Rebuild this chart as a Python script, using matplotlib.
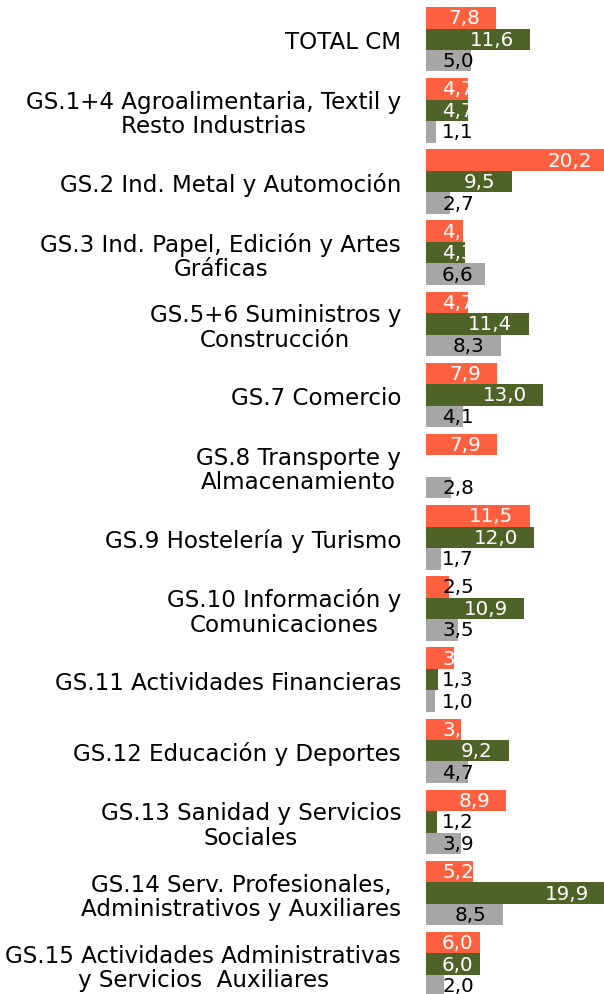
import matplotlib
matplotlib.use("Agg")
import matplotlib.pyplot as plt
import numpy as np

categories = [
    "TOTAL CM",
    "GS.1+4 Agroalimentaria, Textil y\nResto Industrias",
    "GS.2 Ind. Metal y Automoción",
    "GS.3 Ind. Papel, Edición y Artes\nGráficas",
    "GS.5+6 Suministros y\nConstrucción",
    "GS.7 Comercio",
    "GS.8 Transporte y\nAlmacenamiento",
    "GS.9 Hostelería y Turismo",
    "GS.10 Información y\nComunicaciones",
    "GS.11 Actividades Financieras",
    "GS.12 Educación y Deportes",
    "GS.13 Sanidad y Servicios\nSociales",
    "GS.14 Serv. Profesionales,\nAdministrativos y Auxiliares",
    "GS.15 Actividades Administrativas\ny Servicios  Auxiliares",
]
serie_naranja = [7.8, 4.7, 20.2, 4.1, 4.7, 7.9, 7.9, 11.5, 2.5, 3.1, 3.9, 8.9, 5.2, 6.0]
serie_verde = [11.6, 4.7, 9.5, 4.3, 11.4, 13.0, None, 12.0, 10.9, 1.3, 9.2, 1.2, 19.9, 6.0]
serie_gris = [5.0, 1.1, 2.7, 6.6, 8.3, 4.1, 2.8, 1.7, 3.5, 1.0, 4.7, 3.9, 8.5, 2.0]

series = [serie_naranja, serie_verde, serie_gris]
colors = ["#FF6040", "#4F6228", "#A6A6A6"]
label_colors = ["white", "white", "black"]

W, H = 604, 995
fig = plt.figure(figsize=(W / 100, H / 100), dpi=100)
axis_px = 426
ax = fig.add_axes([axis_px / W, 0, 1 - axis_px / W, 1])

ppu = 9.0  # pixels per unit
xmax = (W - axis_px) / ppu
pitch = 71.15
first_center = 40.25
ax.set_xlim(0, xmax)
ax.set_ylim((H - first_center) / pitch, -first_center / pitch)

bh = 0.302
centers = np.arange(len(categories))
offsets = [-bh, 0, bh]

for s, vals in enumerate(series):
    for i, v in enumerate(vals):
        if v is None:
            continue
        ax.barh(centers[i] + offsets[s], v, height=bh, color=colors[s], linewidth=0)

ax.set_yticks(centers)
ax.set_yticklabels(categories, fontsize=16.6, linespacing=1.08, multialignment="center")
ax.tick_params(axis="y", length=0, pad=18)
ax.set_xticks([])
for sp in ax.spines.values():
    sp.set_visible(False)

fig.canvas.draw()
renderer = fig.canvas.get_renderer()
for s, vals in enumerate(series):
    for i, v in enumerate(vals):
        if v is None:
            continue
        t = ax.text(0, centers[i] + offsets[s], f"{v:.1f}".replace(".", ","),
                    fontsize=14.3, va="center", ha="left", color=label_colors[s])
        tw = t.get_window_extent(renderer).width
        bar_end = v * ppu
        right = bar_end - 16
        left = right - tw
        if left < 16:
            left = 16
        t.set_x(left / ppu)
        if bar_end < left + 0.33 * tw:
            t.set_color("black")
        else:
            t.set_color(label_colors[s])

fig.savefig("out.png", dpi=100)
